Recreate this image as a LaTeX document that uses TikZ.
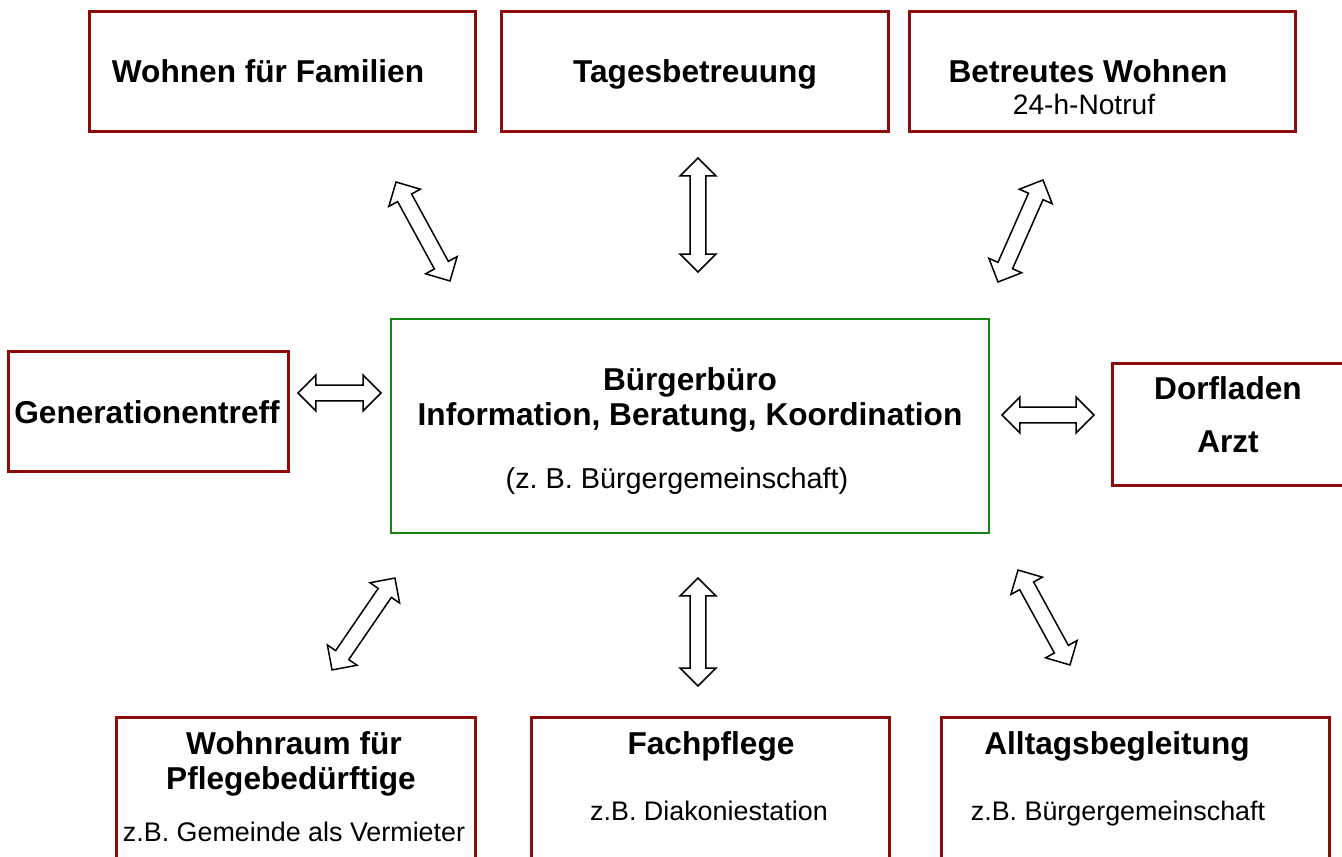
\documentclass[tikz,border=0pt]{standalone}
\usepackage{fontspec}
\setmainfont{Liberation Sans}
\usetikzlibrary{calc,shapes.arrows}
\definecolor{boxred}{RGB}{139,10,10}
\definecolor{boxgreen}{RGB}{20,135,20}
\frenchspacing

\begin{document}
\begin{tikzpicture}[x=0.02cm, y=-0.02cm]
        %style
        \tikzset{offer/.style = {shape=rectangle, draw=boxred, line width=1.7pt, anchor=north west, inner sep=0pt}}
        \tikzset{office/.style = {shape=rectangle, draw=boxgreen, line width=1.4pt, anchor=north west, inner sep=0pt}}
        \tikzset{big/.style = {font=\fontsize{18}{20}\selectfont\bfseries, anchor=base}}
        \tikzset{small/.style = {font=\fontsize{16}{18}\selectfont, anchor=base}}
        \tikzset{smaller/.style = {font=\fontsize{15.3}{18}\selectfont, anchor=base}}
        \tikzset{both/.style = {to path={let \p1=($(\tikztotarget)-(\tikztostart)$), \n1={atan2(\y1,\x1)}, \n2={veclen(\x1,\y1)} in
            node[shape=double arrow, draw, fill=white, line width=0.85pt, inner sep=4.1pt,
                 double arrow head extend=5.7pt, minimum height=\n2, rotate=\n1] at ($(\tikztostart)!0.5!(\tikztotarget)$) {}}}}
        \useasboundingbox (0,0) rectangle (1342,857);
        \clip (0,0) rectangle (1342,857);
        % boxes
        \node[offer, minimum width=7.72cm, minimum height=2.4cm]  (fam)    at (88,10)   {};
        \node[offer, minimum width=7.74cm, minimum height=2.4cm]  (tages)  at (500,10)  {};
        \node[offer, minimum width=7.72cm, minimum height=2.4cm]  (betr)   at (908,10)  {};
        \node[offer, minimum width=5.6cm,  minimum height=2.4cm]  (gen)    at (7,350)   {};
        \node[office, minimum width=11.96cm, minimum height=4.28cm] (buero) at (390,318) {};
        \node[offer, minimum width=4.7cm,  minimum height=2.44cm] (dorf)   at (1111,362) {};
        \node[offer, minimum width=7.18cm, minimum height=3.2cm]  (wohn)   at (115,716) {};
        \node[offer, minimum width=7.16cm, minimum height=3.2cm]  (fach)   at (530,716) {};
        \node[offer, minimum width=7.76cm, minimum height=3.2cm]  (alltag) at (940,716) {};
        % texts
        \node[big]   (famT)    at (268,83)  {Wohnen für Familien};
        \node[big]   (tagesT)  at (695,83)  {Tagesbetreuung};
        \node[big]   (betrT)   at (1088,83) {Betreutes Wohnen};
        \node[small] (betrS)   at (1084,115) {24-h-Notruf};
        \node[big]   (genT)    at (147,424) {Generationentreff};
        \node[big]   (bueroT)  at (690,391) {Bürgerbüro};
        \node[big]   (bueroU)  at (690,426) {Information, Beratung, Koordination};
        \node[small, font=\fontsize{16.4}{18}\selectfont] (bueroS) at (677,489) {(z. B. Bürgergemeinschaft)};
        \node[big]   (dorfT)   at (1228,400) {Dorfladen};
        \node[big]   (dorfU)   at (1228,453) {Arzt};
        \node[big]   (wohnT)   at (294,754) {Wohnraum für};
        \node[big]   (wohnU)   at (291,789) {Pflegebedürftige};
        \node[smaller] (wohnS) at (294,841) {z.B. Gemeinde als Vermieter};
        \node[big]   (fachT)   at (711,754) {Fachpflege};
        \node[smaller] (fachS) at (709,820) {z.B. Diakoniestation};
        \node[big]   (alltagT) at (1117,754) {Alltagsbegleitung};
        \node[smaller] (alltagS) at (1118,820) {z.B. Bürgergemeinschaft};
        % arrow ends
        \coordinate (fam1)  at (396,182);  \coordinate (fam2)  at (450,281);
        \coordinate (tag1)  at (698,158);  \coordinate (tag2)  at (698,272);
        \coordinate (bet1)  at (1043,180); \coordinate (bet2)  at (998,282);
        \coordinate (gen1)  at (298,393);  \coordinate (gen2)  at (381,393);
        \coordinate (dorf1) at (1002,415); \coordinate (dorf2) at (1094,415);
        \coordinate (wohn1) at (395,578);  \coordinate (wohn2) at (332,670);
        \coordinate (fach1) at (698,578);  \coordinate (fach2) at (698,686);
        \coordinate (all1)  at (1018,570); \coordinate (all2)  at (1070,665);
        \path[both] (fam1)  to (fam2);
        \path[both] (tag1)  to (tag2);
        \path[both] (bet1)  to (bet2);
        \path[both] (gen1)  to (gen2);
        \path[both] (dorf1) to (dorf2);
        \path[both] (wohn1) to (wohn2);
        \path[both] (fach1) to (fach2);
        \path[both] (all1)  to (all2);
\end{tikzpicture}
\end{document}
